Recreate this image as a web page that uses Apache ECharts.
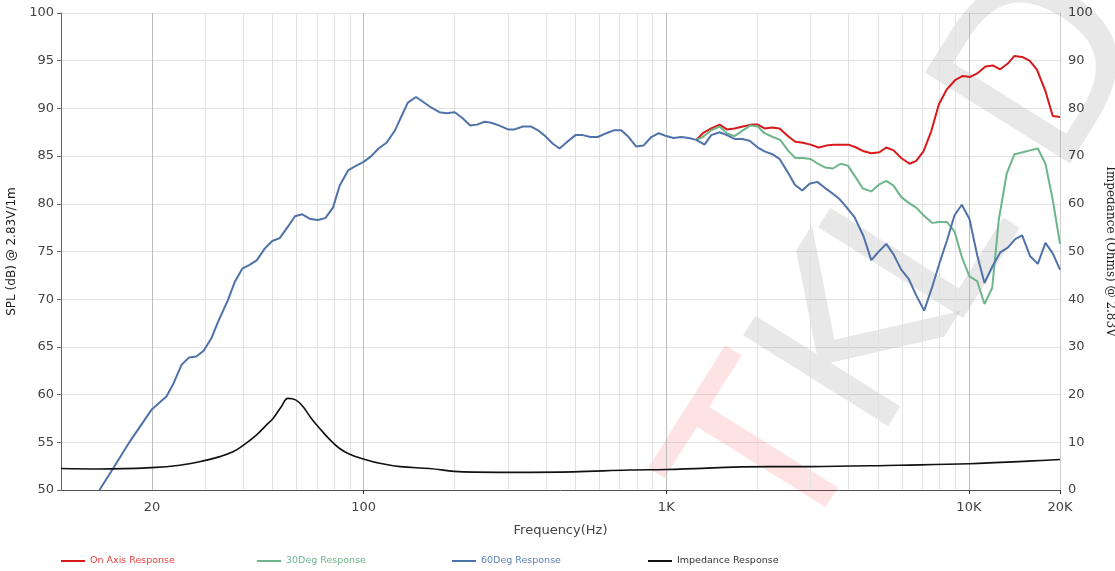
<!DOCTYPE html>
<html>
<head>
<meta charset="utf-8">
<title>Frequency response</title>
<script src="https://cdn.jsdelivr.net/npm/echarts@6/dist/echarts.min.js"></script>
<style>
    html, body { margin: 0; padding: 0; background: #fff; }
    #chart { width: 1115px; height: 571px; }
</style>
</head>
<body>
<div id="chart"></div>
<script>
// 60 degree response covers the whole band (it is also the on-axis / 30deg curve below ~1.2k)
var deg60Freq = [13.4, 14.9, 16.9, 19.9, 22.3, 23.4, 25.0, 26.5, 28.0, 29.6,
    31.4, 33.0, 35.6, 37.5, 39.7, 42.0, 44.4, 47.1, 49.9, 52.8,
    56.2, 59.3, 62.7, 66.7, 70.6, 74.7, 79.2, 83.3, 88.8, 94.6,
    100, 106, 112, 119, 127, 133, 140, 149, 157, 167,
    178, 188, 200, 212, 225, 237, 251, 264, 281, 300,
    315, 336, 358, 377, 398, 422, 444, 471, 501, 530,
    561, 594, 634, 671, 710, 751, 796, 841, 892, 945,
    1000, 1057, 1121, 1188, 1257, 1338, 1408, 1500, 1586, 1681,
    1783, 1885, 2007, 2112, 2240, 2368, 2510, 2660, 2814, 2975,
    3153, 3334, 3535, 3737, 3950, 4189, 4486, 4757, 5040, 5333,
    5636, 5976, 6331, 6698, 7118, 7566, 7997, 8453, 8964, 9474,
    10046, 10652, 11261, 11940, 12687, 13442, 14221, 14997, 15941, 16891,
    17906, 18929, 20000];
var deg60Spl = [50.0, 52.3, 55.1, 58.4, 59.8, 61.0, 63.1, 63.9, 64.0, 64.6,
    65.9, 67.6, 69.9, 71.8, 73.2, 73.6, 74.1, 75.3, 76.1, 76.4,
    77.6, 78.7, 78.9, 78.4, 78.3, 78.5, 79.6, 81.9, 83.5, 84.0,
    84.4, 85.0, 85.8, 86.4, 87.7, 89.1, 90.6, 91.2, 90.7, 90.1,
    89.6, 89.5, 89.6, 89.0, 88.2, 88.3, 88.6, 88.5, 88.2, 87.8,
    87.8, 88.1, 88.1, 87.7, 87.1, 86.3, 85.8, 86.5, 87.2, 87.2,
    87.0, 87.0, 87.4, 87.7, 87.7, 87.0, 86.0, 86.1, 87.0, 87.4,
    87.1, 86.9, 87.0, 86.9, 86.7, 86.2, 87.2, 87.5, 87.2, 86.8,
    86.8, 86.6, 85.9, 85.5, 85.2, 84.7, 83.4, 82.0, 81.4, 82.1,
    82.3, 81.7, 81.1, 80.5, 79.6, 78.6, 76.6, 74.1, 75.0, 75.8,
    74.7, 73.1, 72.1, 70.4, 68.8, 71.3, 73.8, 76.1, 78.8, 79.9,
    78.4, 74.6, 71.7, 73.4, 74.9, 75.4, 76.3, 76.7, 74.5, 73.7,
    75.9, 74.8, 73.1];

var onAxisFreq = [1257, 1321, 1408, 1500, 1586, 1681, 1791, 1909, 2007, 2112,
    2240, 2368, 2522, 2668, 2827, 2998, 3186, 3377, 3578, 3786,
    4003, 4243, 4496, 4757, 5064, 5333, 5636, 5976, 6366, 6698,
    7080, 7508, 7954, 8453, 9031, 9546, 10099, 10700, 11343, 11995,
    12687, 13442, 14147, 14997, 15858, 16764, 17865, 18929, 20000];
var onAxisSpl = [86.7, 87.4, 87.9, 88.3, 87.8, 87.9, 88.1, 88.3, 88.3, 87.9,
    88.0, 87.9, 87.1, 86.5, 86.4, 86.2, 85.9, 86.1, 86.2, 86.2,
    86.2, 85.9, 85.5, 85.3, 85.4, 85.9, 85.6, 84.8, 84.2, 84.5,
    85.5, 87.6, 90.4, 92.0, 93.0, 93.4, 93.3, 93.7, 94.4, 94.5,
    94.1, 94.7, 95.5, 95.4, 95.0, 94.1, 91.9, 89.2, 89.1];

var deg30Freq = [1257, 1321, 1408, 1500, 1586, 1681, 1791, 1895, 2007, 2112,
    2250, 2381, 2522, 2668, 2827, 2998, 3169, 3352, 3552, 3766,
    3981, 4221, 4463, 4757, 5040, 5333, 5636, 5976, 6331, 6698,
    7080, 7566, 7997, 8453, 8964, 9502, 10046, 10652, 11261, 11940,
    12550, 13337, 14147, 15068, 15941, 16891, 17906, 18929, 20000];
var deg30Spl = [86.7, 87.0, 87.7, 88.1, 87.4, 87.1, 87.7, 88.2, 88.1, 87.4,
    87.0, 86.7, 85.6, 84.8, 84.8, 84.7, 84.2, 83.8, 83.7, 84.2,
    84.0, 82.8, 81.6, 81.3, 82.0, 82.4, 81.9, 80.7, 80.1, 79.6,
    78.8, 78.0, 78.1, 78.1, 77.1, 74.3, 72.4, 71.9, 69.5, 71.2,
    78.3, 83.2, 85.2, 85.4, 85.6, 85.8, 84.2, 80.4, 75.8];

var impFreq = [10, 13.4, 19.9, 24.7, 29.5, 33.5, 37.0, 39.9, 44.2, 47.7,
    50.2, 53.5, 56.2, 59.6, 63.0, 67.2, 71.6, 77.2, 83.3, 89.9,
    100, 113, 132, 165, 213, 311, 492, 757, 1000, 2194,
    2975, 5898, 10046, 16260, 20000];
var impOhm = [4.5, 4.4, 4.7, 5.2, 6.1, 7.0, 8.0, 9.3, 11.5, 13.6,
    15.0, 17.5, 19.2, 18.9, 17.5, 15.0, 12.9, 10.6, 8.7, 7.5,
    6.5, 5.6, 4.9, 4.5, 3.8, 3.7, 3.8, 4.2, 4.3, 4.9,
    4.9, 5.2, 5.5, 6.1, 6.4];

// vertical grid lines of the log frequency axis
var gridMajor = [20, 100, 1000, 10000];
var gridMinor = [30, 40, 50, 60, 70, 80, 90,
    200, 300, 400, 500, 600, 700, 800, 900,
    2000, 3000, 4000, 5000, 6000, 7000, 8000, 9000];

var names = ['On Axis Response', '30Deg Response', '60Deg Response', 'Impedance Response'];
var colors = ['#d7191c', '#6db58a', '#4f72a8', '#111111'];
var legendText = ['#e8403f', '#6db58a', '#5b7fb5', '#333333'];
var legendLeft = [56, 252, 447, 643];

function pairs(xs, ys) {
    return xs.map(function (x, i) { return [x, ys[i]]; });
}

var FONT = 'DejaVu Sans, Verdana, sans-serif';

var chart = echarts.init(document.getElementById('chart'));

var vLines = gridMinor.map(function (v) {
    return {xAxis: v, lineStyle: {color: '#e2e2e2', width: 1, type: 'solid'}};
}).concat(gridMajor.map(function (v) {
    var item = {xAxis: v, lineStyle: {color: '#bdbdbd', width: 1, type: 'solid'}};
    if (v === 20) {
        item.label = {
            show: true, position: 'start', formatter: '20', distance: 11,
            color: '#444', fontSize: 13, fontFamily: FONT
        };
    }
    return item;
}));

var legends = names.map(function (n, i) {
    return {
        data: [n],
        left: legendLeft[i],
        top: 551,
        icon: 'rect',
        itemWidth: 24,
        itemHeight: 2,
        itemGap: 6,
        textStyle: {color: legendText[i], fontSize: 9.5, fontFamily: FONT},
        selectedMode: false
    };
});

// faint watermark letters, rotated
var wmGray = 'rgba(0,0,0,0.09)';
var wmRed = 'rgba(240,0,0,0.11)';
var wmRot = 58 * Math.PI / 180;
function wm(ch, x, y, fill) {
    return {
        type: 'text', x: x, y: y, rotation: wmRot, z: 1, silent: true,
        style: {
            text: ch, fill: fill, align: 'center', verticalAlign: 'middle',
            font: '235px DejaVu Sans, sans-serif'
        }
    };
}

var option = {
    animation: false,
    backgroundColor: '#fff',
    textStyle: {fontFamily: FONT},
    grid: {left: 61, right: 55, top: 13, bottom: 81, containLabel: false, outerBoundsMode: 'none'},
    legend: legends,
    graphic: [
        wm('T', 780, 465, wmRed),
        wm('K', 865, 348, wmGray),
        wm('L', 934, 250, wmGray),
        wm('D', 1054, 74, wmGray)
    ],
    xAxis: {
        type: 'log',
        logBase: 10,
        min: 10,
        max: 20000,
        name: 'Frequency(Hz)',
        nameLocation: 'middle',
        nameGap: 34,
        nameTextStyle: {color: '#444', fontSize: 13, fontFamily: FONT},
        axisLine: {show: true, lineStyle: {color: '#555', width: 1}},
        axisTick: {show: true, length: 4, lineStyle: {color: '#333'}},
        axisLabel: {
            color: '#444', fontSize: 13, margin: 11, showMinLabel: false, showMaxLabel: true,
            formatter: function (v) {
                if (v <= 10) return '';
                return v >= 1000 ? (v / 1000) + 'K' : String(v);
            }
        },
        splitLine: {show: false},
        minorTick: {show: false}
    },
    yAxis: [{
        type: 'value',
        min: 50,
        max: 100,
        interval: 5,
        name: 'SPL (dB) @ 2.83V/1m',
        nameLocation: 'middle',
        nameRotate: 90,
        nameGap: 39,
        nameTextStyle: {color: '#222', fontSize: 12, fontFamily: FONT},
        axisLine: {show: true, lineStyle: {color: '#666'}},
        axisTick: {show: true, length: 4, lineStyle: {color: '#666'}},
        axisLabel: {color: '#444', fontSize: 13, margin: 7},
        splitLine: {show: true, lineStyle: {color: '#e4e4e4'}}
    }, {
        type: 'value',
        min: 0,
        max: 100,
        interval: 10,
        position: 'right',
        name: 'Impedance (Ohms) @ 2.83V',
        nameLocation: 'middle',
        nameRotate: -90,
        nameGap: 37,
        nameTextStyle: {color: '#222', fontSize: 12, fontFamily: 'DejaVu Serif, serif'},
        axisLine: {show: true, lineStyle: {color: '#cfcfcf'}},
        axisTick: {show: false},
        axisLabel: {color: '#444', fontSize: 13, margin: 8},
        splitLine: {show: false}
    }],
    series: [{
        name: 'grid',
        type: 'line',
        data: [],
        silent: true,
        markLine: {
            silent: true,
            symbol: 'none',
            z: 1,
            label: {show: false},
            emphasis: {disabled: true},
            data: vLines
        }
    }, {
        name: names[0],
        type: 'line',
        data: pairs(onAxisFreq, onAxisSpl),
        showSymbol: false,
        z: 3,
        lineStyle: {color: colors[0], width: 2},
        itemStyle: {color: colors[0]}
    }, {
        name: names[1],
        type: 'line',
        data: pairs(deg30Freq, deg30Spl),
        showSymbol: false,
        z: 3,
        lineStyle: {color: colors[1], width: 2},
        itemStyle: {color: colors[1]}
    }, {
        name: names[2],
        type: 'line',
        data: pairs(deg60Freq, deg60Spl),
        showSymbol: false,
        z: 3,
        lineStyle: {color: colors[2], width: 2},
        itemStyle: {color: colors[2]}
    }, {
        name: names[3],
        type: 'line',
        yAxisIndex: 1,
        data: pairs(impFreq, impOhm),
        showSymbol: false,
        smooth: 0.4,
        z: 3,
        lineStyle: {color: colors[3], width: 1.6},
        itemStyle: {color: colors[3]}
    }]
};

chart.setOption(option);
</script>
</body>
</html>
